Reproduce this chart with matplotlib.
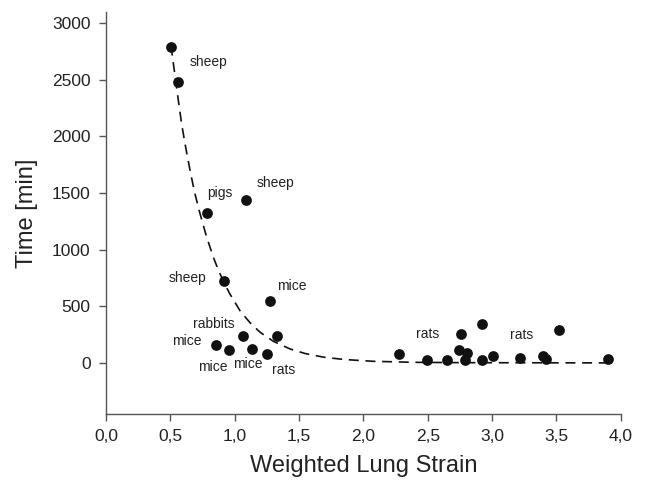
import matplotlib
matplotlib.use("Agg")
import matplotlib.pyplot as plt

plt.rcParams['font.family'] = ['Liberation Sans', 'DejaVu Sans']

# measured points
strain = [0.507, 0.557, 0.782, 1.085, 0.919, 1.277, 1.067, 1.329, 0.855, 0.956,
          1.132, 1.249, 2.279, 2.497, 2.652, 2.761, 2.743, 2.803, 2.789, 2.921,
          2.921, 3.007, 3.214, 3.398, 3.419, 3.517, 3.901]
time_min = [2785, 2476, 1324, 1441, 720, 544, 241, 241, 155, 111,
            124, 82, 79, 29, 23, 259, 111, 88, 23, 341,
            23, 58, 44, 64, 35, 294, 35]

# fitted curve
fit_x = [0.50, 0.513, 0.55, 0.588, 0.62, 0.655, 0.69, 0.73, 0.78, 0.834, 0.87, 0.912,
         0.96, 1.045, 1.12, 1.197, 1.30, 1.43, 1.55, 1.689, 1.85, 2.078, 2.4, 2.8,
         3.3, 3.95]
fit_y = [2800, 2735, 2420, 2110, 1900, 1690, 1500, 1322, 1120, 935, 830, 722,
         615, 455, 355, 272, 192, 124, 83, 52, 31, 15, 6, 3, 2, 1]

# species labels
labels = ['sheep', 'pigs', 'sheep', 'sheep', 'mice', 'rabbits', 'mice', 'mice',
          'mice', 'rats', 'rats', 'rats']
label_x = [0.80, 0.886, 1.321, 0.637, 1.445, 0.839, 0.629, 0.831, 1.103, 1.383, 2.50, 3.232]
label_y = [2659, 1502, 1591, 753, 682, 347, 197, -32, -6, -59, 256, 247]

xticks = [0.0, 0.5, 1.0, 1.5, 2.0, 2.5, 3.0, 3.5, 4.0]
xticklabels = ['0,0', '0,5', '1,0', '1,5', '2,0', '2,5', '3,0', '3,5', '4,0']
yticks = [0, 500, 1000, 1500, 2000, 2500, 3000]

fig = plt.figure(figsize=(6.46, 4.8), dpi=100)
ax = fig.add_axes([0.164, 0.1375, 0.797, 0.838])

ax.plot(fit_x, fit_y, color='#111111', linestyle=(0, (6, 4)), linewidth=1.2, zorder=2)
ax.scatter(strain, time_min, s=60, color='#111111', zorder=3, linewidths=0)

for t, lx, ly in zip(labels, label_x, label_y):
    ax.text(lx, ly, t, fontsize=10, color='#222222', ha='center', va='center')

ax.set_xlim(0, 4.0)
ax.set_ylim(-450, 3100)
ax.set_xticks(xticks)
ax.set_xticklabels(xticklabels)
ax.set_yticks(yticks)

for side in ['top', 'right']:
    ax.spines[side].set_visible(False)
for side in ['left', 'bottom']:
    ax.spines[side].set_color('#555555')
    ax.spines[side].set_linewidth(1.0)

ax.tick_params(direction='out', length=5, width=1, color='#555555',
               labelsize=12.5, labelcolor='#222222', pad=6)

ax.set_xlabel('Weighted Lung Strain', fontsize=17, color='#222222', labelpad=8)
ax.set_ylabel('Time [min]', fontsize=17, color='#222222', labelpad=10)

fig.savefig('out.png', dpi=100)
